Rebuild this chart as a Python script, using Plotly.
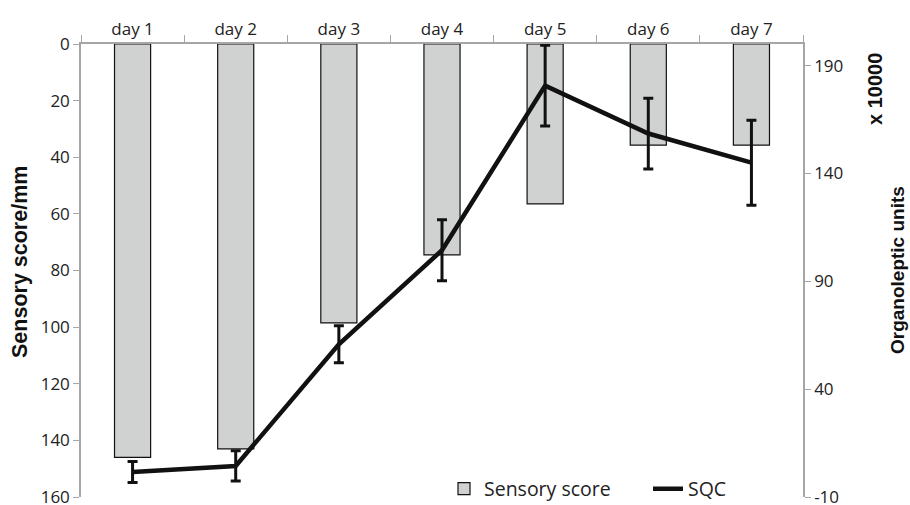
import plotly.graph_objects as go

days = ["day 1", "day 2", "day 3", "day 4", "day 5", "day 6", "day 7"]
sensory_score = [146, 143, 98.5, 74.5, 56.5, 35.7, 35.7]
sqc = [1.6, 4.4, 60.8, 104.4, 180.7, 158.5, 145]
sqc_err = [4.9, 7.0, 8.6, 14.1, 18.7, 16.4, 19.7]

left_ticks = [0, 20, 40, 60, 80, 100, 120, 140, 160]
right_ticks = [-10, 40, 90, 140, 190]
right_tick_text = ["-10", "40", "90", "140", "190"]

W, H = 910, 505
L, R, T, B = 81, 107, 44, 8

tick_font = dict(family="Open Sans", size=17, color="#222222")
axis_grey = "#a6a6a6"

fig = go.Figure()
fig.add_trace(go.Bar(
    x=days, y=sensory_score, name="Sensory score", width=0.35,
    marker=dict(color="#d0d2d1", line=dict(color="#111111", width=1.2)),
    yaxis="y",
))
fig.add_trace(go.Scatter(
    x=days, y=sqc, name="SQC", mode="lines",
    line=dict(color="#111111", width=4.5),
    error_y=dict(type="data", array=sqc_err, visible=True, color="#111111",
                 thickness=3, width=5),
    yaxis="y2",
))

fig.update_layout(
    width=W, height=H,
    margin=dict(l=L, r=R, t=T, b=B, autoexpand=False),
    plot_bgcolor="white", paper_bgcolor="white",
    font=tick_font,
    showlegend=True,
    legend=dict(orientation="h", x=(444 - L) / (W - L - R), y=(497 - 489) / (H - T - B),
                xanchor="left", yanchor="middle", bgcolor="rgba(255,255,255,0)",
                font=dict(family="Open Sans", size=19.5, color="#222222"),
                entrywidth=159, entrywidthmode="pixels", tracegroupgap=0),
    xaxis=dict(side="top", type="category", showline=True, linecolor=axis_grey, linewidth=1.5,
               ticks="outside", tickson="boundaries", ticklen=7, tickcolor=axis_grey,
               showgrid=False, tickfont=tick_font, automargin=False),
    yaxis=dict(range=[160, 0], tickvals=left_ticks, showline=True, linecolor=axis_grey,
               linewidth=1.5, ticks="outside", ticklen=6, tickcolor=axis_grey,
               showgrid=False, zeroline=False, tickfont=tick_font, automargin=False,
               ticklabeloverflow="allow"),
    yaxis2=dict(range=[-10, 200], tickvals=right_ticks, ticktext=right_tick_text,
                overlaying="y", side="right",
                showline=True, linecolor=axis_grey, linewidth=1.5, ticks="outside",
                ticklen=6, tickcolor=axis_grey, showgrid=False, zeroline=False,
                tickfont=tick_font, automargin=False, ticklabeloverflow="allow"),
)

fig.add_annotation(text="<b>Sensory score/mm</b>", xref="paper", yref="paper",
                   x=(20 - L) / (W - L - R), y=1 - (262 - T) / (H - T - B),
                   textangle=-90, showarrow=False,
                   font=dict(family="Liberation Sans", size=21.5, color="#111111"),
                   xanchor="center", yanchor="middle")
fig.add_annotation(text="<b>Organoleptic units</b>", xref="paper", yref="paper",
                   x=(897 - L) / (W - L - R), y=1 - (270 - T) / (H - T - B),
                   textangle=-90, showarrow=False,
                   font=dict(family="Liberation Sans", size=19, color="#111111"),
                   xanchor="center", yanchor="middle")
fig.add_annotation(text="<b>x 10000</b>", xref="paper", yref="paper",
                   x=(875 - L) / (W - L - R), y=1 - (89 - T) / (H - T - B),
                   textangle=-90, showarrow=False,
                   font=dict(family="Liberation Sans", size=20, color="#111111"),
                   xanchor="center", yanchor="middle")

fig.write_html("out.html", config={"displayModeBar": False},
               post_script="document.body.style.margin='0';document.body.style.overflow='hidden';")
